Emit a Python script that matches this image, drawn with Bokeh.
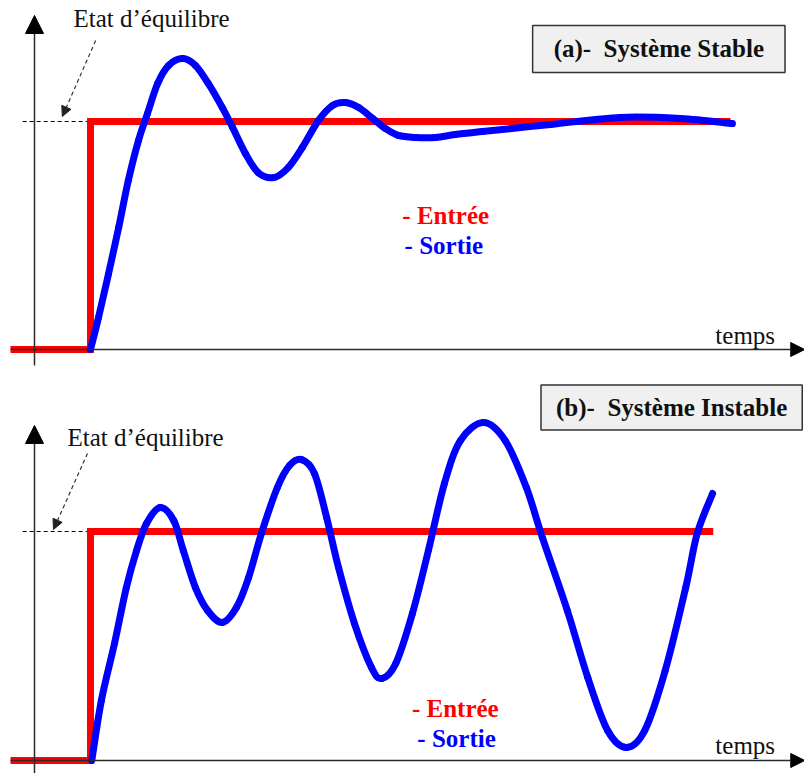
from bokeh.plotting import figure
from bokeh.models import Range1d, Arrow, NormalHead, Label
from bokeh.layouts import column
from bokeh.embed import file_html
from bokeh.resources import INLINE

# ---------------- data (time units, normalised amplitude) ----------------
# (a) stable system
stable_in_t = [-1.25, 0.0, 0.0, 10.0]
stable_in_y = [0.0, 0.0, 1.0, 1.0]
stable_out_t = [0.0, 0.125, 0.28, 0.44, 0.59, 0.75, 0.89, 1.05, 1.22, 1.44, 1.64, 1.84,
                2.06, 2.22, 2.42, 2.62, 2.86, 3.09, 3.31, 3.56, 3.78, 3.98, 4.19, 4.41,
                4.61, 4.81, 5.08, 5.39, 5.70, 6.12, 7.19, 8.28, 9.22, 10.03]
stable_out_y = [0.0, 0.14, 0.33, 0.535, 0.74, 0.917, 1.035, 1.167, 1.246, 1.276, 1.246, 1.167,
                1.061, 0.974, 0.86, 0.776, 0.754, 0.798, 0.886, 1.004, 1.07, 1.083, 1.061, 1.013,
                0.969, 0.939, 0.93, 0.93, 0.943, 0.956, 0.987, 1.018, 1.013, 0.991]

# (b) unstable system
unstable_in_t = [-1.25, 0.0, 0.0, 9.73]
unstable_in_y = [0.0, 0.0, 1.0, 1.0]
unstable_out_t = [0.02, 0.17, 0.375, 0.56, 0.72, 0.875, 1.09, 1.30, 1.45, 1.64, 1.83, 2.06,
                  2.28, 2.47, 2.67, 2.92, 3.11, 3.30, 3.50, 3.69, 3.875, 4.125, 4.39, 4.55,
                  4.77, 5.03, 5.28, 5.53, 5.78, 6.14, 6.48, 6.81, 7.06, 7.45, 7.77, 8.08,
                  8.375, 8.66, 8.98, 9.30, 9.48, 9.72]
unstable_out_y = [0.0, 0.262, 0.511, 0.755, 0.917, 1.035, 1.105, 1.048, 0.917, 0.755, 0.655, 0.603,
                  0.668, 0.799, 0.991, 1.192, 1.288, 1.314, 1.253, 1.061, 0.843, 0.598, 0.406, 0.358,
                  0.424, 0.642, 0.917, 1.21, 1.397, 1.476, 1.397, 1.192, 0.974, 0.655, 0.362, 0.131,
                  0.057, 0.131, 0.393, 0.755, 0.991, 1.166]

title_a = "(a)-\u00a0 Système Stable"
title_b = "(b)-\u00a0 Système Instable"
eq_label = "Etat d’équilibre"
in_label = "- Entrée"
out_label = "- Sortie"
time_label = "temps"

SERIF = "Liberation Serif"
RED = "#ff0000"
BLUE = "#0000ff"
AXIS = "#2b2b2b"
FS = "25px"


def smooth_segments(xs, ys):
    """Bezier control points of a Catmull-Rom curve through the read points."""
    n = len(xs)
    x0, y0, x1, y1, cx0, cy0, cx1, cy1 = [], [], [], [], [], [], [], []
    for i in range(n - 1):
        a = max(i - 1, 0)
        b = min(i + 2, n - 1)
        x0.append(xs[i]); y0.append(ys[i])
        x1.append(xs[i + 1]); y1.append(ys[i + 1])
        cx0.append(xs[i] + (xs[i + 1] - xs[a]) / 6.0)
        cy0.append(ys[i] + (ys[i + 1] - ys[a]) / 6.0)
        cx1.append(xs[i + 1] - (xs[b] - xs[i]) / 6.0)
        cy1.append(ys[i + 1] - (ys[b] - ys[i]) / 6.0)
    return dict(x0=x0, y0=y0, x1=x1, y1=y1, cx0=cx0, cy0=cy0, cx1=cx1, cy1=cy1)


def make_panel(height, y_lo, y_hi, in_t, in_y, out_t, out_y, title, title_xy, title_pad,
               eq_xy, eq_arrow, yaxis, legend_xy, temps_xy):
    p = figure(width=804, height=height, x_range=Range1d(-1.40625, 11.15625),
               y_range=Range1d(y_lo, y_hi), output_backend="svg",
               toolbar_location=None, min_border=0,
               x_axis_location=None, y_axis_location=None)
    p.grid.visible = False
    p.outline_line_color = None
    p.background_fill_color = "white"
    p.border_fill_color = "white"

    # dashed equilibrium level
    p.line([-1.06, 0.0], [1.0, 1.0], line_color="black", line_width=1.2, line_dash="4 3")

    # axes with arrows
    p.add_layout(Arrow(x_start=-0.875, y_start=yaxis[0], x_end=-0.875, y_end=yaxis[1],
                       line_color=AXIS, line_width=1.5,
                       end=NormalHead(size=18, fill_color="black", line_color="black")))
    p.add_layout(Arrow(x_start=-1.25, y_start=0.0, x_end=11.16, y_end=0.0,
                       line_color=AXIS, line_width=1.5,
                       end=NormalHead(size=14, fill_color="black", line_color="black")))

    # equilibrium annotation
    p.add_layout(Arrow(x_start=eq_arrow[0], y_start=eq_arrow[1], x_end=eq_arrow[2], y_end=eq_arrow[3],
                       line_color="#333333", line_width=1.2, line_dash="4 3",
                       end=NormalHead(size=10, fill_color="#222222", line_color="#222222")))
    p.add_layout(Label(x=eq_xy[0], y=eq_xy[1], text=eq_label, text_font=SERIF,
                       text_font_size=FS, text_color="#111111", text_baseline="middle",
                       text_align="left"))

    # signals
    p.line(in_t, in_y, line_color=RED, line_width=7, line_join="miter")
    seg = smooth_segments(out_t, out_y)
    p.bezier(x0="x0", y0="y0", x1="x1", y1="y1", cx0="cx0", cy0="cy0", cx1="cx1", cy1="cy1",
             source=seg, line_color=BLUE, line_width=7, line_cap="round")

    # title box
    p.add_layout(Label(x=title_xy[0], y=title_xy[1], text=title, text_font=SERIF,
                       text_font_size=FS, text_font_style="bold", text_color="#111111",
                       text_align="center", text_baseline="middle",
                       background_fill_color="#f0f0f0", border_line_color="#333333",
                       border_line_width=1.5, padding=title_pad))

    # legend texts
    p.add_layout(Label(x=legend_xy[0], y=legend_xy[1], text=in_label, text_font=SERIF,
                       text_font_size=FS, text_font_style="bold", text_color=RED,
                       text_align="center", text_baseline="middle"))
    p.add_layout(Label(x=legend_xy[2], y=legend_xy[3], text=out_label, text_font=SERIF,
                       text_font_size=FS, text_font_style="bold", text_color=BLUE,
                       text_align="center", text_baseline="middle"))
    p.add_layout(Label(x=temps_xy[0], y=temps_xy[1], text=time_label, text_font=SERIF,
                       text_font_size=FS, text_color="#111111",
                       text_align="center", text_baseline="middle"))
    return p


pa = make_panel(383, -0.1491, 1.5307, stable_in_t, stable_in_y, stable_out_t, stable_out_y,
                title_a, (8.88, 1.318), (21, 21, 10, 10), (-0.266, 1.452), (0.08, 1.355, -0.44, 1.022),
                (-0.07, 1.465), (5.55, 0.588, 5.52, 0.456), (10.23, 0.061))
pb = make_panel(390, -0.0568, 1.6463, unstable_in_t, unstable_in_y, unstable_out_t, unstable_out_y,
                title_b, (9.08, 1.541), (15, 15, 9, 9), (-0.36, 1.41), (-0.047, 1.341, -0.578, 1.009),
                (-0.06, 1.463), (5.70, 0.227, 5.72, 0.096), (10.23, 0.066))

layout = column(pa, pb, spacing=0)
open("out.html", "w").write(file_html(layout, INLINE))
